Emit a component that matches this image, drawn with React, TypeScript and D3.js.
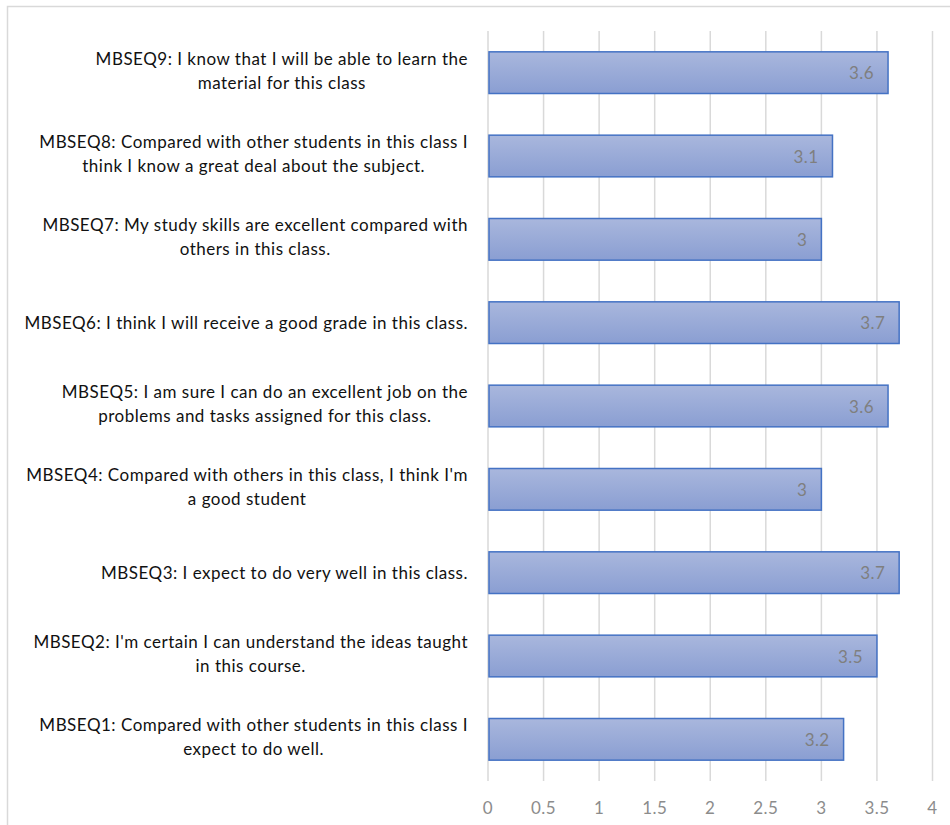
import React, { useEffect, useRef } from "react";
import * as d3 from "d3";

// Survey items, bottom to top, each split into its display lines
const itemLines: string[][] = [
  ["MBSEQ1: Compared with other students in this class I", "expect to do well."],
  ["MBSEQ2: I'm certain I can understand the ideas taught", "in this course."],
  ["MBSEQ3: I expect to do very well in this class."],
  ["MBSEQ4: Compared with others in this class, I think I'm", "a good student"],
  ["MBSEQ5: I am sure I can do an excellent job on the", "problems and tasks assigned for this class."],
  ["MBSEQ6: I think I will receive a good grade in this class."],
  ["MBSEQ7: My study skills are excellent compared with", "others in this class."],
  ["MBSEQ8: Compared with other students in this class I", "think I know a great deal about the subject."],
  ["MBSEQ9: I know that I will be able to learn the", "material for this class"],
];
const itemIds = ["MBSEQ1", "MBSEQ2", "MBSEQ3", "MBSEQ4", "MBSEQ5", "MBSEQ6", "MBSEQ7", "MBSEQ8", "MBSEQ9"];
const meanScores = [3.2, 3.5, 3.7, 3.0, 3.6, 3.7, 3.0, 3.1, 3.6];
const xTicks = [0, 0.5, 1, 1.5, 2, 2.5, 3, 3.5, 4];

const W = 950;
const H = 825;
const FONT = "Lato, 'Open Sans', sans-serif";

export default function App() {
  const ref = useRef<SVGSVGElement | null>(null);

  useEffect(() => {
    const svg = d3.select(ref.current);
    svg.selectAll("*").remove();

    const plot = { left: 488, right: 932.5, top: 31, bottom: 781 };

    const x = d3.scaleLinear().domain([0, 4]).range([plot.left, plot.right]);
    // top-down order: MBSEQ9 at the top
    const y = d3
      .scaleBand<string>()
      .domain([...itemIds].reverse())
      .range([plot.top, plot.bottom])
      .paddingInner(0.5)
      .paddingOuter(0.25);

    const defs = svg.append("defs");
    const grad = defs
      .append("linearGradient")
      .attr("id", "barFill")
      .attr("x1", 0)
      .attr("y1", 0)
      .attr("x2", 0)
      .attr("y2", 1);
    grad.append("stop").attr("offset", "0%").attr("stop-color", "#a9b7dd");
    grad.append("stop").attr("offset", "100%").attr("stop-color", "#8a9ed2");

    // chart frame
    svg
      .append("rect")
      .attr("x", 7.5)
      .attr("y", 6.5)
      .attr("width", W + 20)
      .attr("height", H + 20)
      .attr("fill", "#fff")
      .attr("stroke", "#d9d9d9")
      .attr("stroke-width", 1.5);

    // vertical gridlines
    svg
      .append("g")
      .selectAll("line")
      .data(xTicks)
      .join("line")
      .attr("x1", (d) => x(d))
      .attr("x2", (d) => x(d))
      .attr("y1", plot.top)
      .attr("y2", plot.bottom)
      .attr("stroke", "#d9d9d9")
      .attr("stroke-width", 1.5);

    // tick labels
    svg
      .append("g")
      .selectAll("text")
      .data(xTicks)
      .join("text")
      .attr("x", (d) => x(d))
      .attr("y", 814)
      .attr("text-anchor", "middle")
      .attr("font-family", FONT)
      .attr("font-size", 17)
      .attr("letter-spacing", 0.4)
      .attr("fill", "#8c8c8c")
      .text((d) => String(d));

    const rows = itemIds.map((id, i) => ({ id, value: meanScores[i], lines: itemLines[i] }));

    // bars
    svg
      .append("g")
      .selectAll("rect")
      .data(rows)
      .join("rect")
      .attr("x", x(0) + 1)
      .attr("y", (d) => y(d.id)!)
      .attr("width", (d) => x(d.value) - x(0) - 1)
      .attr("height", y.bandwidth())
      .attr("fill", "url(#barFill)")
      .attr("stroke", "#4472c4")
      .attr("stroke-width", 1.5);

    // value labels, inside the end of each bar
    svg
      .append("g")
      .selectAll("text")
      .data(rows)
      .join("text")
      .attr("x", (d) => x(d.value) - 14)
      .attr("y", (d) => y(d.id)! + y.bandwidth() / 2 + 6.5)
      .attr("text-anchor", "end")
      .attr("font-family", FONT)
      .attr("font-size", 17)
      .attr("letter-spacing", 0.4)
      .attr("fill", "#7f7f7f")
      .text((d) => String(d.value));

    // category labels: block right-aligned to the axis, lines centred within the block
    const labelRight = 468;
    const lineGap = 24;
    const labels = svg.append("g");
    rows.forEach((r) => {
      const cy = y(r.id)! + y.bandwidth() / 2;
      const g = labels.append("g");
      const texts = r.lines.map((line, k) => {
        const off = (k - (r.lines.length - 1) / 2) * lineGap - (r.lines.length > 1 ? 2 : 0);
        return g
          .append("text")
          .attr("y", cy + off + 6)
          .attr("text-anchor", "middle")
          .attr("font-family", FONT)
          .attr("font-size", 17)
          .attr("letter-spacing", 0.5)
          .attr("fill", "#111")
          .text(line);
      });
      const widths = texts.map((t) => (t.node() as SVGTextElement).getComputedTextLength());
      const blockW = Math.max(...widths);
      texts.forEach((t) => t.attr("x", labelRight - blockW / 2));
    });
  }, []);

  return (
    <svg
      ref={ref}
      width={W}
      height={H}
      style={{ position: "absolute", left: 0, top: 0, background: "#fff" }}
    />
  );
}
